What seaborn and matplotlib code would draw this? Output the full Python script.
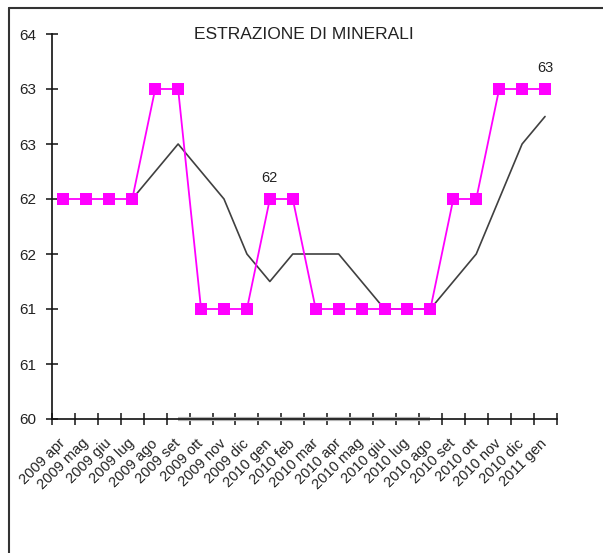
import numpy as np
import pandas as pd
import seaborn as sns
import matplotlib.pyplot as plt
from matplotlib.lines import Line2D
from matplotlib.ticker import FixedLocator, FuncFormatter

mesi = ['2009 apr', '2009 mag', '2009 giu', '2009 lug', '2009 ago', '2009 set',
        '2009 ott', '2009 nov', '2009 dic', '2010 gen', '2010 feb', '2010 mar',
        '2010 apr', '2010 mag', '2010 giu', '2010 lug', '2010 ago', '2010 set',
        '2010 ott', '2010 nov', '2010 dic', '2011 gen']
estrazione = [62, 62, 62, 62, 63, 63, 61, 61, 61, 62, 62, 61,
              61, 61, 61, 61, 61, 62, 62, 63, 63, 63]
media_mobile = [np.nan, np.nan, np.nan, 62, 62.25, 62.5, 62.25, 62, 61.5, 61.25, 61.5, 61.5,
                61.5, 61.25, 61, 61, 61, 61.25, 61.5, 62, 62.5, 62.75]
# faint grey trace lying on the x axis (set 2009 - ago 2010)
traccia = [np.nan] * 5 + [60] * 12 + [np.nan] * 5
etichette = {'2010 gen': '62', '2011 gen': '63'}

df = pd.DataFrame({'mese': mesi, 'pos': np.arange(len(mesi)),
                   'estrazione': estrazione, 'media': media_mobile, 'traccia': traccia})

sns.set_style('white')
plt.rcParams['font.family'] = ['Liberation Sans', 'DejaVu Sans']

fig = plt.figure(figsize=(6.03, 5.53), dpi=100)
ax = fig.add_axes([52 / 603, 1 - 419 / 553, (556.5 - 52) / 603, (419 - 34) / 553])

sns.lineplot(data=df, x='pos', y='traccia', ax=ax, color='#b4b4b4', lw=3,
             solid_capstyle='butt', estimator=None, sort=False, zorder=1, clip_on=False)
sns.lineplot(data=df, x='pos', y='media', ax=ax, color='#404040', lw=1.2,
             estimator=None, sort=False, zorder=2)
sns.lineplot(data=df, x='pos', y='estrazione', ax=ax, color='#ff00ff', lw=1.3,
             marker='s', markersize=8, markeredgewidth=0, markerfacecolor='#ff00ff',
             estimator=None, sort=False, zorder=3)

for i, m in enumerate(mesi):
    if m in etichette:
        ax.annotate(etichette[m], (i, estrazione[i]), xytext=(0, 12),
                    textcoords='offset points', ha='center', va='baseline',
                    fontsize=10.5, color='#222222')

ax.set_xlim(-0.5, len(mesi) - 0.5)
ax.set_ylim(60, 63.5)
yt = np.arange(60, 63.51, 0.5)
ax.set_yticks(yt)
ax.yaxis.set_major_formatter(FuncFormatter(lambda v, p: f'{int(np.floor(v + 0.5))}'))
ax.tick_params(axis='y', direction='inout', length=9, width=1.2, pad=7,
               labelsize=11, colors='#222222', left=True)

ax.xaxis.set_major_locator(FixedLocator(np.arange(-0.5, len(mesi), 1)))
ax.xaxis.set_minor_locator(FixedLocator(np.arange(len(mesi))))
ax.set_xticklabels([], minor=False)
ax.set_xticklabels(mesi, minor=True, rotation=45, ha='right', va='center',
                   rotation_mode='anchor', fontsize=10.5, color='#222222')
ax.tick_params(axis='x', which='major', direction='inout', length=9, width=1.2,
               bottom=True)
ax.tick_params(axis='x', which='minor', length=0, pad=16)

ax.set_xlabel('')
ax.set_ylabel('')
sns.despine(ax=ax)
for s in ['left', 'bottom']:
    ax.spines[s].set_color('#111111')
    ax.spines[s].set_linewidth(1.2)
    ax.spines[s].set_zorder(4)

ax.set_title('ESTRAZIONE DI MINERALI', fontsize=12.5, color='#222222', pad=-6,
             y=1.0, va='bottom')

# partial outer frame of the chart area
fig.add_artist(Line2D([9 / 603, 9 / 603], [0, 1 - 8 / 553], color='#333333', lw=1.5))
fig.add_artist(Line2D([9 / 603, 1], [1 - 8 / 553, 1 - 8 / 553], color='#333333', lw=1.5))

fig.savefig('out.png', dpi=100)
